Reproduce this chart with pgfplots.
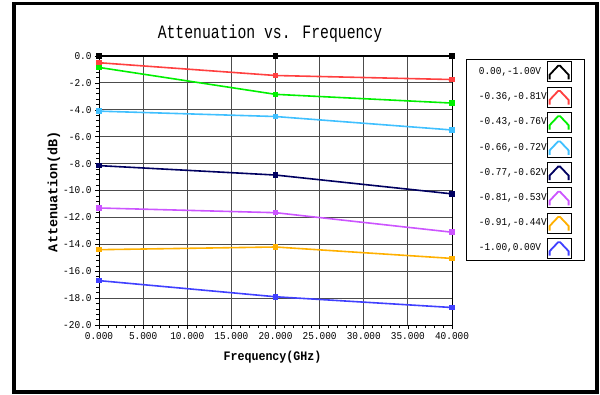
\documentclass[border=0pt]{standalone}
\usepackage{fontspec}
\usepackage{pgfplots}
\pgfplotsset{compat=1.18}
\newfontfamily\simf[FakeStretch=0.9]{Liberation Mono}
\newfontfamily\simt[FakeStretch=0.78]{Liberation Mono}
\newfontfamily\simw{Liberation Mono}
\definecolor{cred}{RGB}{255,64,64}
\definecolor{cgreen}{RGB}{0,240,0}
\definecolor{clblue}{RGB}{64,192,255}
\definecolor{cnavy}{RGB}{0,0,96}
\definecolor{cpurple}{RGB}{204,85,255}
\definecolor{corange}{RGB}{255,176,0}
\definecolor{cblue}{RGB}{64,64,255}
\begin{document}
\begin{tikzpicture}[x=1bp,y=1bp]
\useasboundingbox (0,0) rectangle (600,394);
\draw[line width=3.5bp] (14,390.5) rectangle (597,1.8);
\node[font=\simt\fontsize{19}{21}\selectfont] at (270,360) {Attenuation vs. Frequency};
\node[font=\simw\bfseries\fontsize{13.5}{15}\selectfont, rotate=90] at (54,202.5) {Attenuation(dB)};
\node[font=\simf\bfseries\fontsize{13}{15}\selectfont] at (272.5,37) {Frequency(GHz)};
\begin{axis}[at={(99bp,69bp)}, anchor=south west, scale only axis,
  width=353bp, height=269bp,
  xmin=0, xmax=40, ymin=-20, ymax=0,
  xtick={0,5,...,40}, ytick={-20,-18,...,0},
  minor x tick num=4, minor y tick num=4,
  tick align=outside, tick pos=left,
  major tick length=4bp, minor tick length=3bp,
  grid=major, major grid style={black!70, line width=0.8bp},
  axis line style={black, line width=0.8bp},
  every tick/.style={black, line width=0.6bp},
  clip=false,
  xticklabel={\pgfmathprintnumber[fixed,fixed zerofill,precision=3,assume math mode=true]{\tick}},
  yticklabel={\pgfmathprintnumber[fixed,fixed zerofill,precision=1,assume math mode=true]{\tick}},
  ticklabel style={font=\simf\fontsize{10.5}{12}\selectfont},
  legend style={at={(rel axis cs:1.0397,0.9888)}, anchor=north west,
    draw=black, line width=0.8bp, inner xsep=12.5bp, inner ysep=2bp,
    row sep=4.4bp, font=\simf\fontsize{10.5}{12}\selectfont,
    nodes={inner sep=0pt},
    /tikz/every even column/.append style={column sep=6bp}},
  legend plot pos=right, legend cell align=left,
  legend image code/.code={
    \draw[draw=black, line width=0.8bp, fill=none] (0bp,-10bp) rectangle (24bp,10bp);
    \draw[mark=none, line width=1.8bp, line join=miter] (2.5bp,-7.5bp) -- (2.5bp,-3bp) -- (11bp,6bp) -- (13bp,6bp) -- (21.5bp,-3bp) -- (21.5bp,-7.5bp);
  },
  every axis plot/.append style={line width=1.6bp, mark=square*, mark size=2bp, mark options={solid}},
]
\addplot[color=black] coordinates {(0,0) (20,0) (40,0)};
\addlegendentry{0.00,-1.00V}
\addplot[color=cred] coordinates {(0,-0.5) (20,-1.45) (40,-1.75)};
\addlegendentry{-0.36,-0.81V}
\addplot[color=cgreen] coordinates {(0,-0.85) (20,-2.85) (40,-3.5)};
\addlegendentry{-0.43,-0.76V}
\addplot[color=clblue] coordinates {(0,-4.1) (20,-4.5) (40,-5.5)};
\addlegendentry{-0.66,-0.72V}
\addplot[color=cnavy] coordinates {(0,-8.15) (20,-8.85) (40,-10.25)};
\addlegendentry{-0.77,-0.62V}
\addplot[color=cpurple] coordinates {(0,-11.3) (20,-11.65) (40,-13.1)};
\addlegendentry{-0.81,-0.53V}
\addplot[color=corange] coordinates {(0,-14.4) (20,-14.2) (40,-15.05)};
\addlegendentry{-0.91,-0.44V}
\addplot[color=cblue] coordinates {(0,-16.7) (20,-17.9) (40,-18.7)};
\addlegendentry{-1.00,0.00V}
\end{axis}
\end{tikzpicture}
\end{document}
